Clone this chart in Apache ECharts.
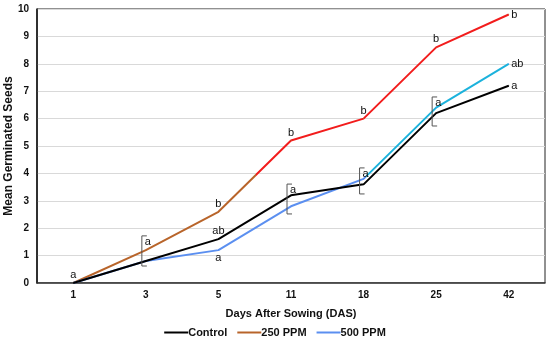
<!DOCTYPE html>
<html><head><meta charset="utf-8">
<script src="https://cdn.jsdelivr.net/npm/echarts@6/dist/echarts.min.js"></script>
<style>html,body{margin:0;padding:0;background:#fff}#c{width:550px;height:341px}</style>
</head><body><div id="c"></div>
<script>
const categories = ['1', '3', '5', '11', '18', '25', '42'];
const control = [0, 0.8, 1.6, 3.2, 3.6, 6.2, 7.2];
const ppm250 = [0, 1.2, 2.6, 5.2, 6.0, 8.6, 9.8];
const ppm500 = [0, 0.8, 1.2, 2.8, 3.8, 6.4, 8.0];
const controlLetters = ['a', '', 'ab', '', '', '', 'a'];
const ppm250Letters = ['', '', 'b', 'b', 'b', 'b', 'b'];
const ppm500Letters = ['', '', 'a', '', '', '', 'ab'];
// bracket groups: [category index, low value, high value, letter]
const brackets = [[1, 0.62, 1.72, 'a'], [3, 2.52, 3.61, 'a'], [4, 3.25, 4.2, 'a'], [5, 5.73, 6.79, 'a']];

const FONT = '"Liberation Sans", Arial, sans-serif';
function withLabels(vals, letters, posFn) {
  return vals.map((v, i) => ({
    value: v,
    label: letters[i] ? {show: true, formatter: letters[i], position: posFn(i), distance: 2} : {show: false}
  }));
}
const chart = echarts.init(document.getElementById('c'));
const grad = (t, c1, c2) => new echarts.graphic.LinearGradient(0, 0, 1, 0, [
  {offset: 0, color: c1}, {offset: t, color: c1}, {offset: t, color: c2}, {offset: 1, color: c2}]);
const labelStyle = {show: false, color: '#111', fontFamily: FONT, fontSize: 11};
chart.setOption({
  animation: false,
  grid: {left: 37, right: 5, top: 9, bottom: 58, show: true, borderColor: '#222', borderWidth: 1, containLabel: false, outerBoundsMode: 'none'},
  legend: {
    top: 327, left: 'center', padding: 0, icon: 'rect', itemWidth: 24, itemHeight: 2, itemGap: 10,
    textStyle: {fontFamily: FONT, fontSize: 11, fontWeight: 'bold', color: '#111', padding: [0, 0, 0, -5]},
    data: [
      {name: 'Control', itemStyle: {color: '#000'}},
      {name: '250 PPM', itemStyle: {color: '#b8642a'}},
      {name: '500 PPM', itemStyle: {color: '#5b8ff0'}}
    ]
  },
  xAxis: {
    type: 'category', data: categories, boundaryGap: true,
    name: 'Days After Sowing (DAS)', nameLocation: 'middle', nameGap: 25,
    nameTextStyle: {fontFamily: FONT, fontSize: 11, fontWeight: 'bold', color: '#111'},
    axisLine: {lineStyle: {color: '#333', width: 1.5}}, axisTick: {show: false},
    axisLabel: {fontFamily: FONT, fontSize: 10, fontWeight: 'bold', color: '#111', margin: 7}
  },
  yAxis: {
    type: 'value', min: 0, max: 10, interval: 1,
    name: 'Mean Germinated Seeds', nameLocation: 'middle', nameGap: 22, nameMoveOverlap: false,
    nameTextStyle: {fontFamily: FONT, fontSize: 12, fontWeight: 'bold', color: '#111'},
    axisLine: {show: true, lineStyle: {color: '#111', width: 1.5}}, axisTick: {show: false},
    splitLine: {lineStyle: {color: '#d9d9d9', width: 1}},
    axisLabel: {fontFamily: FONT, fontSize: 10, fontWeight: 'bold', color: '#111', margin: 8}
  },
  series: [
    {name: 'Control', type: 'line', symbol: 'circle', symbolSize: 1, z: 3,
     lineStyle: {color: '#000', width: 2}, itemStyle: {color: '#000'}, label: labelStyle,
     data: withLabels(control, controlLetters, i => i === 6 ? 'right' : 'top')},
    {name: '250 PPM', type: 'line', symbol: 'circle', symbolSize: 1, z: 2,
     lineStyle: {color: grad(0.42, '#b8642a', '#f21c1c'), width: 2}, itemStyle: {color: '#b8642a'}, label: labelStyle,
     data: withLabels(ppm250, ppm250Letters, i => i === 6 ? 'right' : 'top')},
    {name: '500 PPM', type: 'line', symbol: 'circle', symbolSize: 1, z: 2,
     lineStyle: {color: grad(0.67, '#5b8ff0', '#1bb2dc'), width: 2}, itemStyle: {color: '#5b8ff0'}, label: labelStyle,
     data: withLabels(ppm500, ppm500Letters, i => i === 6 ? 'right' : (i === 2 ? 'bottom' : 'top'))},
    {name: 'brackets', type: 'custom', z: 4, silent: true,
     data: brackets,
     renderItem: function (params, api) {
       const top = api.coord([api.value(0), api.value(2)]);
       const bot = api.coord([api.value(0), api.value(1)]);
       const x = top[0] - 4;
       return {type: 'group', children: [
         {type: 'polyline', shape: {points: [[x + 5, top[1]], [x, top[1]], [x, bot[1]], [x + 5, bot[1]]]},
          style: {stroke: '#555', lineWidth: 1, fill: null}},
         {type: 'text', x: x + 3, y: top[1] + 6,
          style: {text: brackets[params.dataIndex][3], fill: '#111', font: '11px ' + FONT, verticalAlign: 'middle', align: 'left'}}
       ]};
     }}
  ]
});
</script></body></html>
